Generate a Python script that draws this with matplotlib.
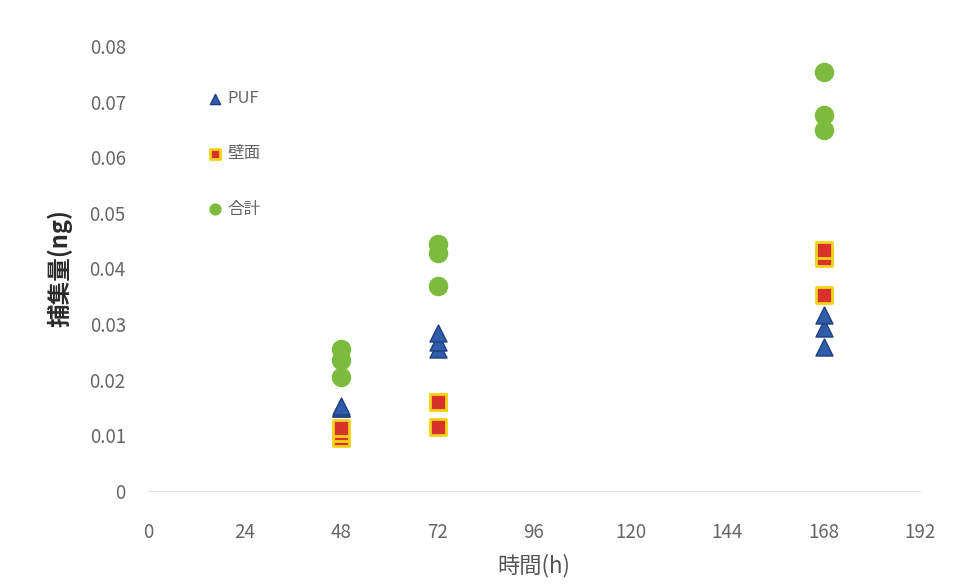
import matplotlib
matplotlib.use("Agg")
import matplotlib.pyplot as plt

plt.rcParams['font.family'] = ['Noto Sans CJK JP', 'DejaVu Sans']

# sampling times (h), three replicates each
hours = [48, 48, 48, 72, 72, 72, 168, 168, 168]
puf = [0.0150, 0.0150, 0.0153, 0.0255, 0.0268, 0.0284, 0.0259, 0.0293, 0.0316]
wall = [0.0095, 0.0105, 0.0113, 0.0115, 0.0160, 0.0160, 0.0419, 0.0352, 0.0433]
total = [0.0205, 0.0235, 0.0255, 0.0369, 0.0428, 0.0444, 0.0676, 0.0649, 0.0754]

x_ticks = [0, 24, 48, 72, 96, 120, 144, 168, 192]
y_ticks = [0, 0.01, 0.02, 0.03, 0.04, 0.05, 0.06, 0.07, 0.08]
y_tick_labels = ["0", "0.01", "0.02", "0.03", "0.04", "0.05", "0.06", "0.07", "0.08"]

fig = plt.figure(figsize=(9.56, 5.86), dpi=100)
ax = fig.add_axes([148/956, 1 - 491/586, 772/956, 445/586])

ax.scatter(hours, puf, marker="^", s=150, color="#2F5DAA", edgecolors="#1F3F80",
           linewidths=1, label="PUF", zorder=3, clip_on=False)
ax.scatter(hours, wall, marker="s", s=140, color="#D8322A", edgecolors="#F2D21B",
           linewidths=2, label="壁面", zorder=3, clip_on=False)
ax.scatter(hours, total, marker="o", s=170, color="#7DBB3E", edgecolors="#7DBB3E",
           linewidths=1, label="合計", zorder=3, clip_on=False)

ax.set_xlim(0, 192)
ax.set_ylim(0, 0.08)
ax.set_xticks(x_ticks)
ax.set_yticks(y_ticks)
ax.set_yticklabels(y_tick_labels)
ax.tick_params(length=0, labelsize=13.5, labelcolor="#666666")
ax.tick_params(axis="y", pad=16)
ax.tick_params(axis="x", pad=22)

for s in ["top", "right", "left"]:
    ax.spines[s].set_visible(False)
ax.spines["bottom"].set_color("#E0E0E0")

ax.set_xlabel("時間(h)", fontsize=16, color="#555555", labelpad=8)
ax.set_ylabel("捕集量(ng)", fontsize=17, color="#2a2a2a", fontweight="semibold", labelpad=12)

leg = ax.legend(loc="upper left", bbox_to_anchor=(0.055, 0.935), frameon=False,
                fontsize=12, labelspacing=2.3, handletextpad=0.1, markerscale=0.6,
                handlelength=1.2)
for t in leg.get_texts():
    t.set_color("#666666")

fig.savefig("out.png", dpi=100)
